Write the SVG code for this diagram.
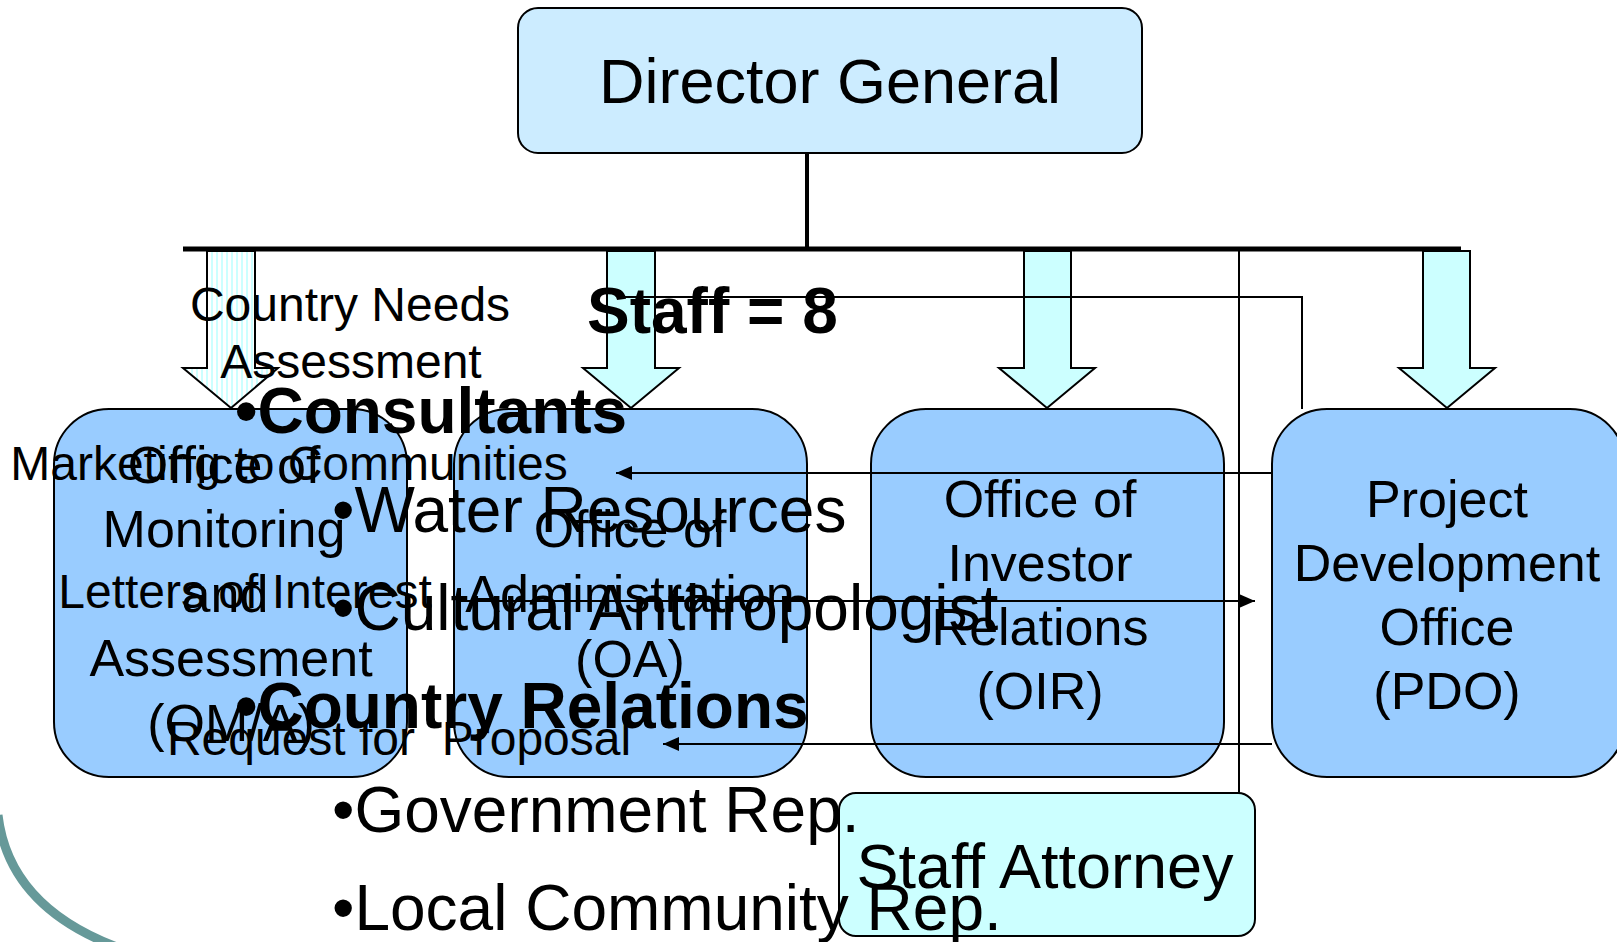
<svg xmlns="http://www.w3.org/2000/svg" width="1617" height="942" viewBox="0 0 1617 942">
<style>
text{font-family:"Liberation Sans",Arial,sans-serif;fill:#000}
.box{fill:#99CCFF;stroke:#000;stroke-width:2}
.bt{font-size:52px;text-anchor:middle}
.ov{font-size:48px;text-anchor:middle;white-space:pre}
.bl{font-size:64px}
.b{font-weight:bold}
.arr{fill:#CCFFFF;stroke:#000;stroke-width:2}
.thin{fill:none;stroke:#000;stroke-width:2}
</style>
<defs>
<pattern id="stripes" width="5" height="10" patternUnits="userSpaceOnUse">
<rect width="5" height="10" fill="#fff"/>
<rect x="1" width="2" height="10" fill="#CCFFFF"/>
</pattern>
<marker id="ah" viewBox="0 0 16 14" refX="16" refY="7" markerWidth="16" markerHeight="14" markerUnits="userSpaceOnUse" orient="auto">
<path d="M0,0 L16,7 L0,14 Z" fill="#000"/>
</marker>
</defs>
<rect width="1617" height="942" fill="#fff"/>
<path d="M-2,815 C5,875 45,922 125,950" fill="none" stroke="#669999" stroke-width="9"/>

<g id="director-general">
<rect x="518" y="8" width="624" height="145" rx="20" fill="#CCECFF" stroke="#000" stroke-width="2"/>
<text x="830" y="103" font-size="63" text-anchor="middle">Director General</text>
</g>

<g id="connectors">
<line x1="807" y1="153" x2="807" y2="249" stroke="#000" stroke-width="4"/>
<line x1="183" y1="249" x2="1461" y2="249" stroke="#000" stroke-width="5"/>
<path d="M207,251 L255,251 L255,368 L278,368 L231,408 L183,368 L207,368 Z" fill="url(#stripes)" stroke="#000" stroke-width="2"/>
<path class="arr" d="M607,251 L655,251 L655,368 L679,368 L631,408 L583,368 L607,368 Z"/>
<path class="arr" d="M1024,251 L1071,251 L1071,368 L1095,368 L1047,408 L999,368 L1024,368 Z"/>
<path class="arr" d="M1423,251 L1470,251 L1470,368 L1495,368 L1447,408 L1399,368 L1423,368 Z"/>
</g>

<g id="office-om">
<rect class="box" x="54" y="409" width="353" height="368" rx="55"/>
<text class="bt" x="224" y="483">Office of</text>
<text class="bt" x="224" y="547">Monitoring</text>
<text class="bt" x="225" y="612">and</text>
<text class="bt" x="231" y="676">Assessment</text>
<text class="bt" x="231" y="741">(OM/A)</text>
</g>
<g id="office-oa">
<rect class="box" x="454" y="409" width="353" height="368" rx="55"/>
<text class="bt" x="630" y="547">Office of</text>
<text class="bt" x="630" y="612">Administration</text>
<text class="bt" x="630" y="677">(OA)</text>
</g>
<g id="office-oir">
<rect class="box" x="871" y="409" width="353" height="368" rx="55"/>
<text class="bt" x="1040" y="517">Office of</text>
<text class="bt" x="1040" y="581">Investor</text>
<text class="bt" x="1040" y="645">Relations</text>
<text class="bt" x="1040" y="709">(OIR)</text>
</g>
<g id="office-pdo">
<rect class="box" x="1272" y="409" width="353" height="368" rx="55"/>
<text class="bt" x="1447" y="517">Project</text>
<text class="bt" x="1447" y="581">Development</text>
<text class="bt" x="1447" y="645">Office</text>
<text class="bt" x="1447" y="709">(PDO)</text>
</g>

<g id="flow-connectors">
<polyline class="thin" points="625,297 1302,297 1302,409"/>
<line class="thin" x1="1239" y1="249" x2="1239" y2="793"/>
<line class="thin" x1="1272" y1="473" x2="616" y2="473" marker-end="url(#ah)"/>
<line class="thin" x1="458" y1="601" x2="1255" y2="601" marker-end="url(#ah)"/>
<line class="thin" x1="1272" y1="744" x2="663" y2="744" marker-end="url(#ah)"/>
</g>

<g id="staff-attorney">
<rect x="839" y="793" width="416" height="143" rx="17" fill="#CCFFFF" stroke="#000" stroke-width="2"/>
<text x="1045" y="888" font-size="63" text-anchor="middle">Staff Attorney</text>
</g>

<g id="process-labels">
<text class="ov" x="350" y="321">Country Needs</text>
<text class="ov" x="351" y="378">Assessment</text>
<text class="ov" x="289" y="480">Marketing to Communities</text>
<text class="ov" x="245" y="608">Letters of Interest</text>
<text class="ov" x="399" y="755">Request for  Proposal</text>
</g>

<g id="staff-list">
<text class="bl b" x="587" y="333">Staff = 8</text>
<text class="bl b" x="235" y="433">•Consultants</text>
<text class="bl" x="332" y="532">•Water Resources</text>
<text class="bl" x="332" y="630">•Cultural Anthropologist</text>
<text class="bl b" x="235" y="728">•Country Relations</text>
<text class="bl" x="332" y="832">•Government Rep.</text>
<text class="bl" x="332" y="930">•Local Community Rep.</text>
</g>
</svg>
